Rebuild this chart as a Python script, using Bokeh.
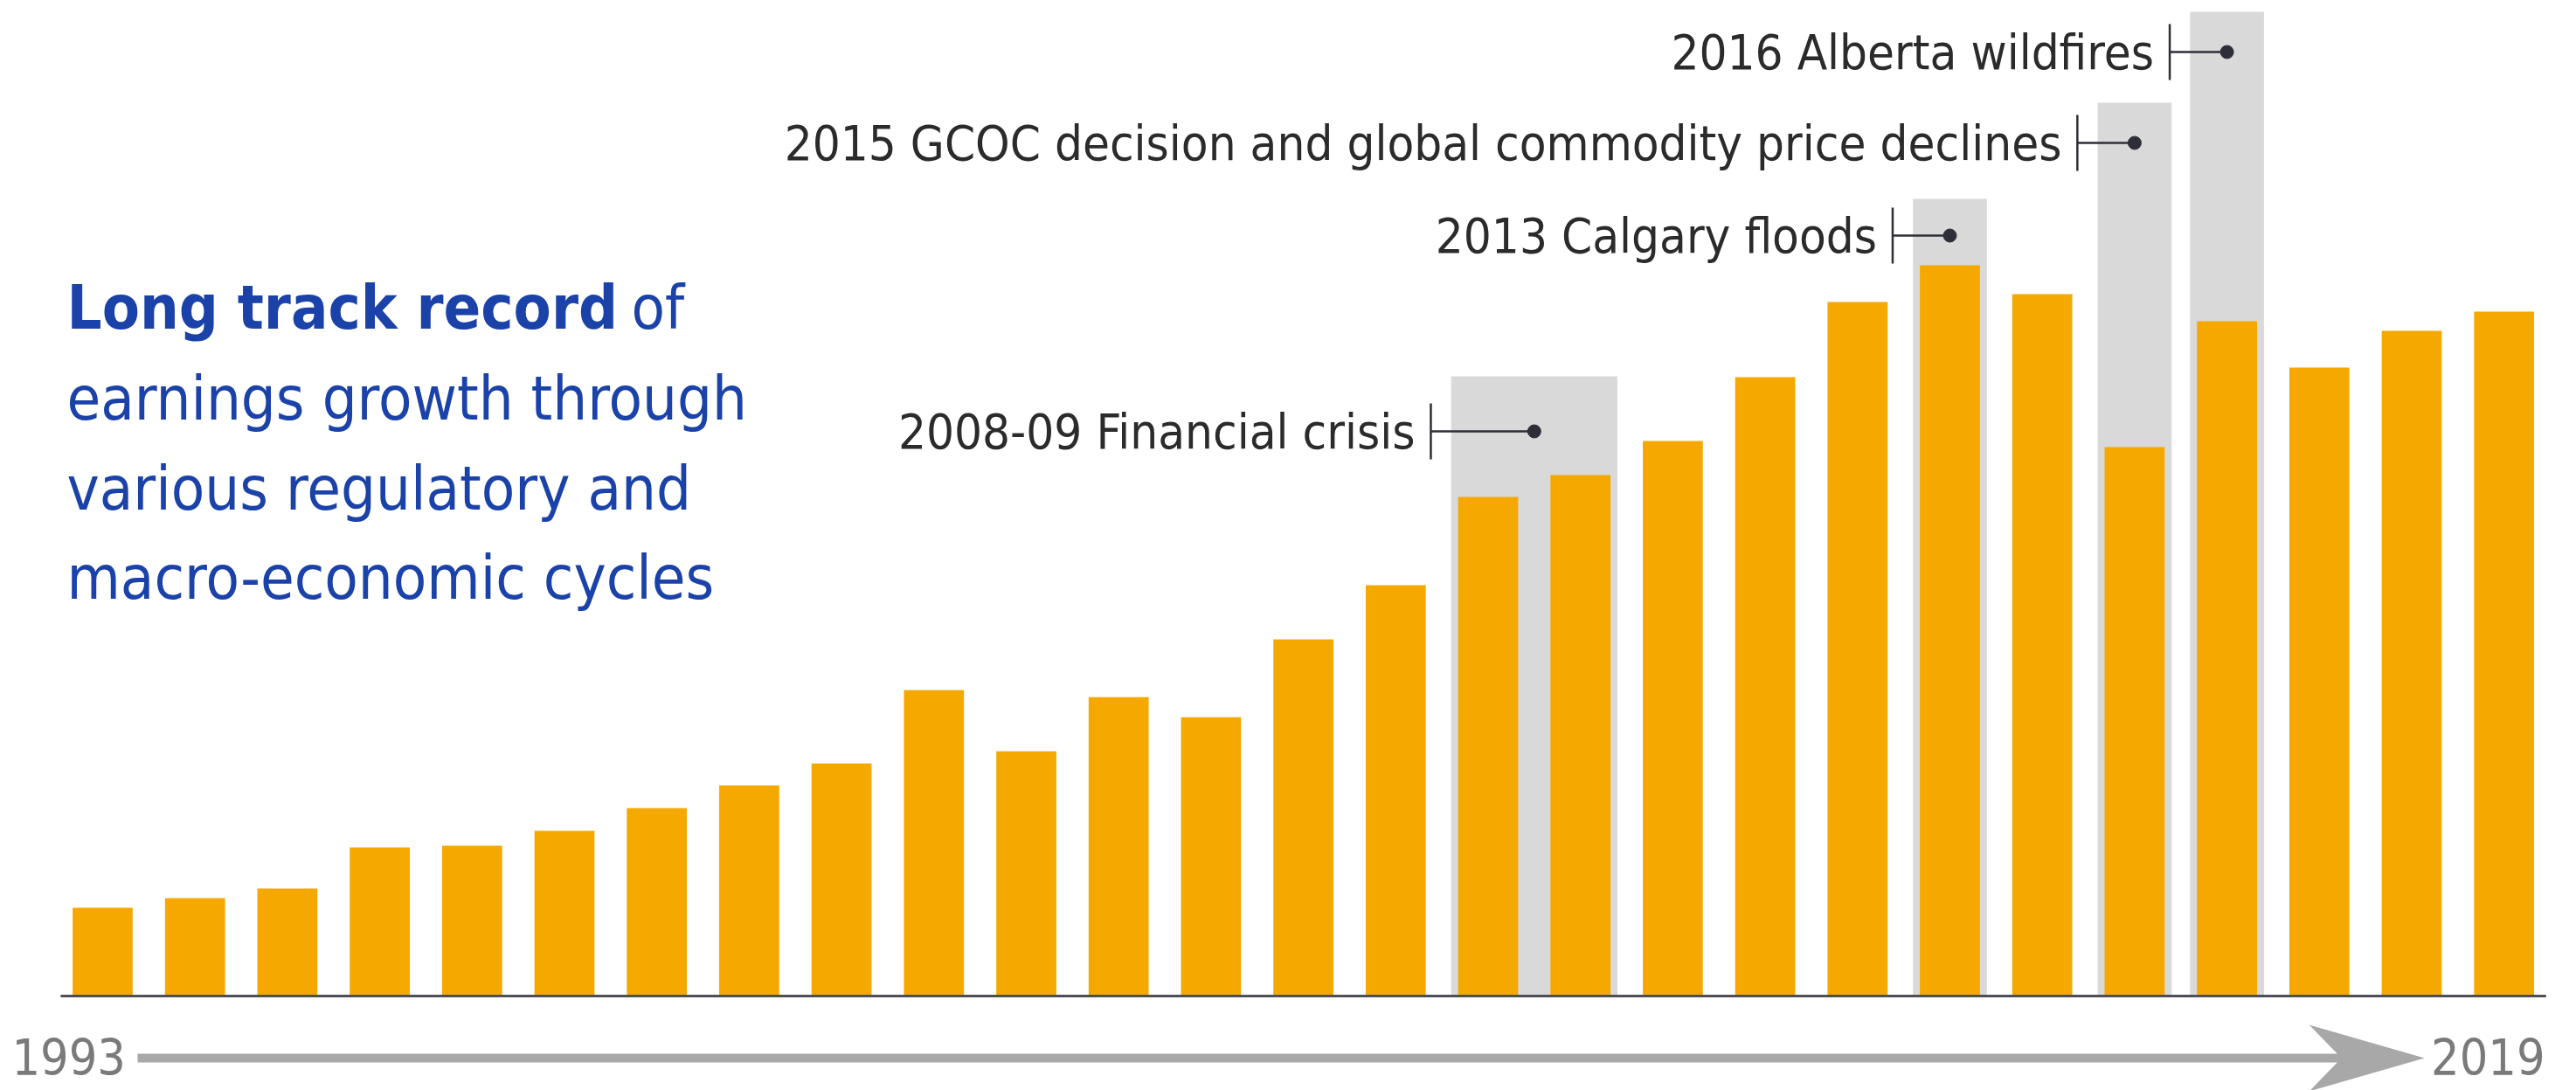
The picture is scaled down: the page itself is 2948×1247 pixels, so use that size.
from bokeh.plotting import figure
from bokeh.models import Range1d
from bokeh.core.properties import value
from bokeh.embed import file_html
from bokeh.resources import INLINE

# ---------------- data ----------------
years = list(range(1993, 2020))
earnings = [101, 112, 123, 170, 172, 189, 215, 241, 266, 350, 280, 342, 319,
            408, 470, 571, 596, 635, 708, 794, 836, 803, 628, 772, 719, 761, 783]

event_labels = ["2008-09 Financial crisis",
                "2013 Calgary floods",
                "2015 GCOC decision and global commodity price declines",
                "2016 Alberta wildfires"]
event_start = [2008, 2013, 2015, 2016]
event_end = [2009, 2013, 2015, 2016]
event_top = [709, 912, 1022, 1126]      # height of the grey highlight
event_marker = [646, 870, 976, 1080]    # height of the annotation dot

title_bold = "Long track record"
title_rest = ["of", "earnings growth through", "various regulatory and",
              "macro-economic cycles"]
start_label = "1993"
end_label = "2019"

# ---------------- style ----------------
FONT = "'DejaVu Sans Condensed', 'DejaVu Sans', sans-serif"
BAR = "#F5A800"
BOX = "#D9D9D9"
INK = "#2E2E38"
BLUE = "#1A42A8"
GREY = "#A8A8A8"

W, H = 2948, 1247
PX = 105.7                      # pixels per year
BASE = 1139                     # pixel row of the zero line
x0 = years[0] - 117 / PX


def dx(px):
    return x0 + px / PX


def dy(py):
    return BASE - py


p = figure(width=W, height=H, x_range=Range1d(x0, dx(W)), y_range=Range1d(dy(H), dy(0)),
           output_backend="svg", toolbar_location=None, min_border=0)
p.axis.visible = False
p.grid.visible = False
p.outline_line_color = None
p.background_fill_color = "white"
p.border_fill_color = "white"

pad = 0.40
box_left = [s - pad for s in event_start]
box_right = [e + pad for e in event_end]
p.quad(left=box_left, right=box_right, bottom=0, top=event_top,
       fill_color=BOX, line_color=None)

p.vbar(x=years, top=earnings, bottom=0, width=0.65, fill_color=BAR, line_color=None)

# baseline
p.segment(x0=[years[0] - 0.455], y0=[0], x1=[years[-1] + 0.455], y1=[0],
          line_color="#4E4E58", line_width=3)

# annotations
dot_x = [(s + e) / 2 for s, e in zip(event_start, event_end)]
tick_x = [b - 0.22 for b in box_left]
p.segment(x0=tick_x, y0=event_marker, x1=dot_x, y1=event_marker,
          line_color=INK, line_width=2.5)
p.segment(x0=tick_x, y0=[m - 32 for m in event_marker], x1=tick_x,
          y1=[m + 32 for m in event_marker], line_color=INK, line_width=2.5)
p.scatter(x=dot_x, y=event_marker, size=15, color=INK)
p.text(x=[t - 0.17 for t in tick_x], y=event_marker, text=event_labels,
       text_align="right", text_baseline="middle", text_font_size="56px",
       text_color="#2B2B2B", text_font=value(FONT))

# timeline arrow
arrow_y = dy(1210)
line_start = years[0] + 0.378
tip = years[-1] - 0.861
back = years[-1] - 2.11
notch = back + 0.35
p.segment(x0=[line_start], y0=[arrow_y], x1=[notch + 0.05], y1=[arrow_y],
          line_color=GREY, line_width=10)
p.patch(x=[back, tip, back, notch], y=[arrow_y + 38, arrow_y, arrow_y - 38, arrow_y],
        fill_color=GREY, line_color=None)

# title block
TS = "70px"
p.text(x=[dx(76)], y=[dy(351)], text=[title_bold], text_font=value(FONT),
       text_font_style="bold", text_font_size=TS, text_color=BLUE,
       text_baseline="middle")
p.text(x=[dx(722)], y=[dy(351)], text=[title_rest[0]], text_font=value(FONT),
       text_font_size=TS, text_color=BLUE, text_baseline="middle")
p.text(x=[dx(76)] * 3, y=[dy(455), dy(558), dy(660)], text=title_rest[1:],
       text_font=value(FONT), text_font_size=TS, text_color=BLUE,
       text_baseline="middle")

# year labels
p.text(x=[dx(13)], y=[dy(1208)], text=[start_label], text_font=value(FONT),
       text_font_size="57px", text_color="#7A7A7A", text_baseline="middle")
p.text(x=[dx(2912)], y=[dy(1208)], text=[end_label], text_font=value(FONT),
       text_font_size="57px", text_color="#7A7A7A", text_baseline="middle",
       text_align="right")

open("out.html", "w").write(file_html(p, INLINE))
